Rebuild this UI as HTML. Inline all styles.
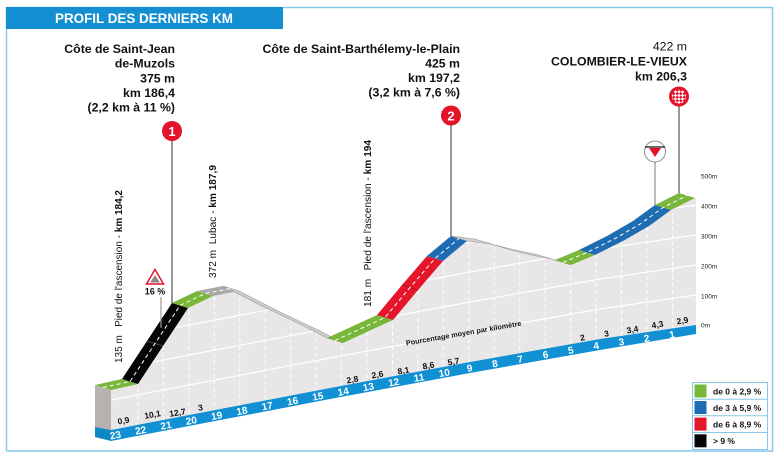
<!DOCTYPE html>
<html><head><meta charset="utf-8"><style>
html,body{margin:0;padding:0;background:#fff;}
svg{display:block;font-family:"Liberation Sans",Arial,sans-serif;}
</style></head><body>
<svg width="782" height="459" viewBox="0 0 782 459" xmlns="http://www.w3.org/2000/svg">
<defs>
<clipPath id="face"><polygon points="111,390 138,384 163,346 188,308 213,296 239,291 280,312 318,330 343,343 393,320 418,290 443,261 467,241 491,244 511,250 531,255 551,259 571,265 595,255 623,241 649,226 671,210 695,198 696,198 696,325 600,339 470,362 330,388 111,430"/></clipPath>
<clipPath id="fin"><circle cx="679" cy="96.5" r="7"/></clipPath>
</defs>
<rect width="782" height="459" fill="#fff"/>
<!-- frame -->
<path d="M6.5 451 V7.5 H772.5 V451 H6.5" fill="none" stroke="#86c7ea" stroke-width="1.5"/>
<rect x="6" y="7" width="277" height="22" fill="#1490d2"/>
<text x="55" y="23" font-size="13.5" font-weight="bold" fill="#fff" textLength="178" lengthAdjust="spacingAndGlyphs">PROFIL DES DERNIERS KM</text>

<!-- top labels -->
<g font-size="12.3" font-weight="bold" fill="#111" text-anchor="end">
<text x="175" y="53">Côte de Saint-Jean</text>
<text x="175" y="67.7">de-Muzols</text>
<text x="175" y="82.3">375 m</text>
<text x="175" y="97">km 186,4</text>
<text x="175" y="111.5">(2,2 km à 11 %)</text>
<text x="460" y="53">Côte de Saint-Barthélemy-le-Plain</text>
<text x="460" y="67.5">425 m</text>
<text x="460" y="82">km 197,2</text>
<text x="460" y="96.5">(3,2 km à 7,6 %)</text>
<text x="687" y="50.5" font-weight="normal">422 m</text>
<text x="687" y="65.5">COLOMBIER-LE-VIEUX</text>
<text x="687" y="80.5">km 206,3</text>
</g>

<!-- side face & main face -->
<polygon points="95,385 111,390 111,430 95,427" fill="#b7b1af"/>
<polygon points="111,390 138,384 163,346 188,308 213,296 239,291 280,312 318,330 343,343 393,320 418,290 443,261 467,241 491,244 511,250 531,255 551,259 571,265 595,255 623,241 649,226 671,210 695,198 696,198 696,325 600,339 470,362 330,388 111,430" fill="#e8e6e6"/>
<g clip-path="url(#face)" fill="none" stroke="#fff">
<g stroke-width="1.2">
<polyline points="100,402.1 330,358 470,332 600,309 696,295"/>
<polyline points="100,372.1 330,328 470,302 600,279 696,265"/>
<polyline points="100,342.1 330,298 470,272 600,249 696,235"/>
<polyline points="100,312.1 330,268 470,242 600,219 696,205"/>
<polyline points="100,282.1 330,238 470,212 600,189 696,175"/>
</g>
<path stroke-width="1" stroke-dasharray="4,3" d="M138 150V450M163.45 150V450M188.9 150V450M214.35 150V450M239.8 150V450M265.25 150V450M290.7 150V450M316.15 150V450M341.6 150V450M367.05 150V450M392.5 150V450M417.95 150V450M443.4 150V450M468.85 150V450M494.3 150V450M519.75 150V450M545.2 150V450M570.65 150V450M596.1 150V450M621.55 150V450M647 150V450M672.45 150V450"/>
</g>

<!-- road strips -->
<polygon points="95,385 122,379 138,384 111,390" fill="#79b73a"/>
<polygon points="122,379 147,341 172,303 188,308 163,346 138,384" fill="#050505"/>
<line x1="147" y1="341" x2="163" y2="346" stroke="#555" stroke-width="0.8"/>
<polygon points="172,303 197,291 213,296 188,308" fill="#79b73a"/>
<polygon points="197,291 223,286 239,291 213,296" fill="#a9a9a9"/>
<polygon points="223,286 264,307 302,325 327,338 343,343 318,330 280,312 239,291" fill="#cfcdcd" stroke="#9a9a9a" stroke-width="0.6"/>
<polygon points="327,338 377,315 393,320 343,343" fill="#79b73a"/>
<polygon points="377,315 402,285 427,256 443,261 418,290 393,320" fill="#e5152a"/>
<line x1="402" y1="285" x2="418" y2="290" stroke="#a50f1f" stroke-width="0.8"/>
<polygon points="427,256 451,236 467,241 443,261" fill="#1e6db3"/>
<polygon points="451,236 475,239 495,245 515,250 535,254 555,260 571,265 551,259 531,255 511,250 491,244 467,241" fill="#cfcdcd" stroke="#9a9a9a" stroke-width="0.6"/>
<polygon points="555,260 579,250 595,255 571,265" fill="#79b73a"/>
<polygon points="579,250 607,236 633,221 655,205 671,210 649,226 623,241 595,255" fill="#1e6db3"/>
<polygon points="655,205 679,193 695,198 671,210" fill="#79b73a"/>
<g fill="none" stroke="#fff" stroke-width="1" stroke-dasharray="4,3">
<polyline points="103,387.5 130,381.5 155,343.5 180,305.5 205,293.5 231,288.5"/>
<polyline points="335,340.5 385,317.5 410,287.5 435,258.5 459,238.5"/>
<polyline points="563,262.5 587,252.5 615,238.5 641,223.5 663,207.5 687,195.5"/>
</g>

<!-- km band -->
<polygon points="95,427 111,430 111,441 95,437" fill="#0f86c6"/>
<polygon points="111,430 330,388 470,362 600,339 696,325 696,334 600,350 470,373 330,399 111,441" fill="#1190d3"/>
<g font-size="10" font-weight="bold" fill="#fff" text-anchor="middle">
<text transform="translate(116,438.5) rotate(-10)">23</text>
<text transform="translate(141.3,433.7) rotate(-10)">22</text>
<text transform="translate(166.6,428.8) rotate(-10)">21</text>
<text transform="translate(191.9,424) rotate(-10)">20</text>
<text transform="translate(217.2,419.1) rotate(-10)">19</text>
<text transform="translate(242.5,414.3) rotate(-10)">18</text>
<text transform="translate(267.8,409.4) rotate(-10)">17</text>
<text transform="translate(293.1,404.5) rotate(-10)">16</text>
<text transform="translate(318.4,399.7) rotate(-10)">15</text>
<text transform="translate(343.7,395) rotate(-10)">14</text>
<text transform="translate(369,390.3) rotate(-10)">13</text>
<text transform="translate(394.3,385.6) rotate(-10)">12</text>
<text transform="translate(419.6,380.9) rotate(-10)">11</text>
<text transform="translate(444.9,376.2) rotate(-10)">10</text>
<text transform="translate(470.2,371.5) rotate(-10)">9</text>
<text transform="translate(495.5,367) rotate(-10)">8</text>
<text transform="translate(520.8,362.5) rotate(-10)">7</text>
<text transform="translate(546.1,358) rotate(-10)">6</text>
<text transform="translate(571.4,353.6) rotate(-10)">5</text>
<text transform="translate(596.7,349.1) rotate(-10)">4</text>
<text transform="translate(622,345.3) rotate(-10)">3</text>
<text transform="translate(647.3,341.6) rotate(-10)">2</text>
<text transform="translate(672.6,337.9) rotate(-10)">1</text>
</g>

<!-- gradients -->
<g font-size="8.5" font-weight="bold" fill="#111" text-anchor="middle">
<text transform="translate(124,423.5) rotate(-10)">0,9</text>
<text transform="translate(153,417.5) rotate(-10)">10,1</text>
<text transform="translate(178,415.5) rotate(-10)">12,7</text>
<text transform="translate(201,410.5) rotate(-10)">3</text>
<text transform="translate(353,382.5) rotate(-10)">2,8</text>
<text transform="translate(378,377.5) rotate(-10)">2,6</text>
<text transform="translate(404,373.5) rotate(-10)">8,1</text>
<text transform="translate(429,368.5) rotate(-10)">8,6</text>
<text transform="translate(454,364.5) rotate(-10)">5,7</text>
<text transform="translate(583,340.5) rotate(-10)">2</text>
<text transform="translate(607,336.5) rotate(-10)">3</text>
<text transform="translate(633,332.5) rotate(-10)">3,4</text>
<text transform="translate(658,327.5) rotate(-10)">4,3</text>
<text transform="translate(683,323.5) rotate(-10)">2,9</text>
</g>
<text transform="translate(464,335.5) rotate(-9.8)" font-size="7" font-weight="bold" fill="#111" text-anchor="middle" textLength="117" lengthAdjust="spacingAndGlyphs">Pourcentage moyen par kilomètre</text>

<!-- right scale -->
<g font-size="6.5" fill="#222">
<text x="701" y="178.3">500m</text>
<text x="701" y="208.3">400m</text>
<text x="701" y="238.3">300m</text>
<text x="701" y="268.3">200m</text>
<text x="701" y="298.3">100m</text>
<text x="701" y="327.3">0m</text>
</g>

<!-- vertical labels -->
<g font-size="10.5" fill="#111">
<text transform="translate(122,363) rotate(-90)" textLength="173" lengthAdjust="spacingAndGlyphs">135 m&#160;&#160; Pied de l'ascension - <tspan font-weight="bold">km 184,2</tspan></text>
<text transform="translate(216,278) rotate(-90)" textLength="113" lengthAdjust="spacingAndGlyphs">372 m&#160; Lubac - <tspan font-weight="bold">km 187,9</tspan></text>
<text transform="translate(371,307) rotate(-90)" textLength="167" lengthAdjust="spacingAndGlyphs">181 m&#160;&#160; Pied de l'ascension - <tspan font-weight="bold">km 194</tspan></text>
</g>

<!-- markers -->
<g stroke="#333" stroke-width="1">
<line x1="172" y1="140" x2="172" y2="303"/>
<line x1="451" y1="125" x2="451" y2="236"/>
<line x1="679" y1="106" x2="679" y2="193"/>
<line x1="655" y1="162" x2="655" y2="205" stroke="#777"/>
</g>
<line x1="161" y1="297" x2="161" y2="328" stroke="#999" stroke-width="1.2"/>
<circle cx="172" cy="131" r="10" fill="#e3132a"/>
<text x="172" y="136" font-size="13" font-weight="bold" fill="#fff" text-anchor="middle">1</text>
<circle cx="451" cy="115.5" r="10" fill="#e3132a"/>
<text x="451" y="120.3" font-size="13" font-weight="bold" fill="#fff" text-anchor="middle">2</text>
<circle cx="679" cy="96.5" r="10" fill="#e3132a"/>
<g clip-path="url(#fin)" fill="#fff">
<g transform="rotate(45 679 96.5)">
<rect x="672" y="89.5" width="2.5" height="2.5"/><rect x="677" y="89.5" width="2.5" height="2.5"/><rect x="682" y="89.5" width="2.5" height="2.5"/>
<rect x="674.5" y="92" width="2.5" height="2.5"/><rect x="679.5" y="92" width="2.5" height="2.5"/><rect x="684.5" y="92" width="2.5" height="2.5"/>
<rect x="672" y="94.5" width="2.5" height="2.5"/><rect x="677" y="94.5" width="2.5" height="2.5"/><rect x="682" y="94.5" width="2.5" height="2.5"/>
<rect x="674.5" y="97" width="2.5" height="2.5"/><rect x="679.5" y="97" width="2.5" height="2.5"/><rect x="684.5" y="97" width="2.5" height="2.5"/>
<rect x="672" y="99.5" width="2.5" height="2.5"/><rect x="677" y="99.5" width="2.5" height="2.5"/><rect x="682" y="99.5" width="2.5" height="2.5"/>
<rect x="674.5" y="102" width="2.5" height="2.5"/><rect x="679.5" y="102" width="2.5" height="2.5"/>
</g>
</g>
<circle cx="655" cy="151.5" r="10.5" fill="#fff" stroke="#8a8a8a" stroke-width="1"/>
<line x1="645" y1="147" x2="665" y2="147" stroke="#111" stroke-width="1.2"/>
<polygon points="649,148 661,148 655,157" fill="#e3132a"/>
<!-- 16% -->
<polygon points="155,269.5 146.5,284 163.5,284" fill="#fff" stroke="#e3132a" stroke-width="1.5"/>
<polygon points="155,275 150,282.5 160,282.5" fill="#8a8a8a"/>
<text x="155" y="294.5" font-size="9" font-weight="bold" fill="#111" text-anchor="middle">16 %</text>

<!-- legend -->
<rect x="692.5" y="382.5" width="75" height="67" fill="#fff" stroke="#86c7ea" stroke-width="1"/>
<g stroke="#86c7ea" stroke-width="1">
<line x1="692.5" y1="399.2" x2="767.5" y2="399.2"/>
<line x1="692.5" y1="415.8" x2="767.5" y2="415.8"/>
<line x1="692.5" y1="432.5" x2="767.5" y2="432.5"/>
</g>
<rect x="694.5" y="384.5" width="12" height="13" fill="#79b73a"/>
<rect x="694.5" y="401" width="12" height="13" fill="#1e6db3"/>
<rect x="694.5" y="417.6" width="12" height="13" fill="#e5152a"/>
<rect x="694.5" y="434.3" width="12" height="13" fill="#050505"/>
<g font-size="8.5" font-weight="bold" fill="#111">
<text x="713" y="394.3">de 0 à 2,9 %</text>
<text x="713" y="410.8">de 3 à 5,9 %</text>
<text x="713" y="427.4">de 6 à 8,9 %</text>
<text x="713" y="444">&gt; 9 %</text>
</g>
</svg>
</body></html>
